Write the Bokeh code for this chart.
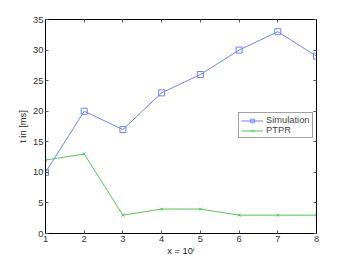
from bokeh.plotting import figure
from bokeh.models import LinearAxis, Legend, LegendItem, FixedTicker, Range1d, CustomJSTickFormatter
from bokeh.embed import file_html
from bokeh.resources import INLINE

x_vals = [1, 2, 3, 4, 5, 6, 7, 8]
simulation = [10, 20, 17, 23, 26, 30, 33, 29]
ptpr = [12, 13, 3, 4, 4, 3, 3, 3]
y_ticks = [0, 5, 10, 15, 20, 25, 30, 35]

FONT = "Liberation Sans"
BLUE = "#6f80ff"
GREEN = "#55c455"

p = figure(width=349, height=262, output_backend="svg", toolbar_location=None,
           x_range=Range1d(1, 8), y_range=Range1d(0, 35),
           min_border_left=45, min_border_right=33, min_border_top=19, min_border_bottom=29)
p.grid.visible = False
p.outline_line_color = "black"
p.outline_line_width = 1

def style_axis(ax):
    ax.major_tick_in = 3
    ax.major_tick_out = 0
    ax.minor_tick_in = 0
    ax.minor_tick_out = 0
    ax.axis_line_color = "black"
    ax.major_tick_line_color = "#555555"
    ax.major_label_text_font = FONT
    ax.major_label_text_font_size = "7pt"
    ax.major_label_text_color = "#333333"
    ax.axis_label_text_font = FONT
    ax.axis_label_text_font_size = "7pt"
    ax.axis_label_text_font_style = "normal"
    ax.axis_label_text_color = "#222222"
    ax.major_label_standoff = 2
    ax.axis_label_standoff = 4

p.xaxis.ticker = FixedTicker(ticks=x_vals)
p.yaxis.ticker = FixedTicker(ticks=y_ticks)
p.xaxis.axis_label = "x = 10ⁱ"
p.yaxis.axis_label = "t in [ms]"
style_axis(p.xaxis[0])
style_axis(p.yaxis[0])
p.xaxis[0].axis_label_standoff = 1
p.yaxis[0].axis_label_standoff = 2

blank = CustomJSTickFormatter(code="return '';")
top = LinearAxis(ticker=FixedTicker(ticks=x_vals), formatter=blank)
style_axis(top)
right = LinearAxis(ticker=FixedTicker(ticks=y_ticks), formatter=blank)
style_axis(right)
top.major_label_standoff = 0
right.major_label_standoff = 0
p.add_layout(top, "above")
p.add_layout(right, "right")

l1 = p.line(x_vals, simulation, line_color=BLUE, line_width=1)
s1 = p.scatter(x_vals, simulation, marker="square", size=6, fill_alpha=0, line_color=BLUE)
l2 = p.line(x_vals, ptpr, line_color=GREEN, line_width=1)
s2 = p.scatter(x_vals, ptpr, marker="x", size=4, line_color=GREEN)

legend = Legend(items=[LegendItem(label="Simulation", renderers=[l1, s1]),
                       LegendItem(label="PTPR", renderers=[l2, s2])],
                location=(193, 95), label_text_font=FONT, label_text_font_size="7pt",
                border_line_color="#444444", padding=2, spacing=0, margin=0,
                label_height=9, glyph_height=9, glyph_width=22, label_standoff=3)
p.add_layout(legend, "center")

open("out.html", "w").write(file_html(p, INLINE))
